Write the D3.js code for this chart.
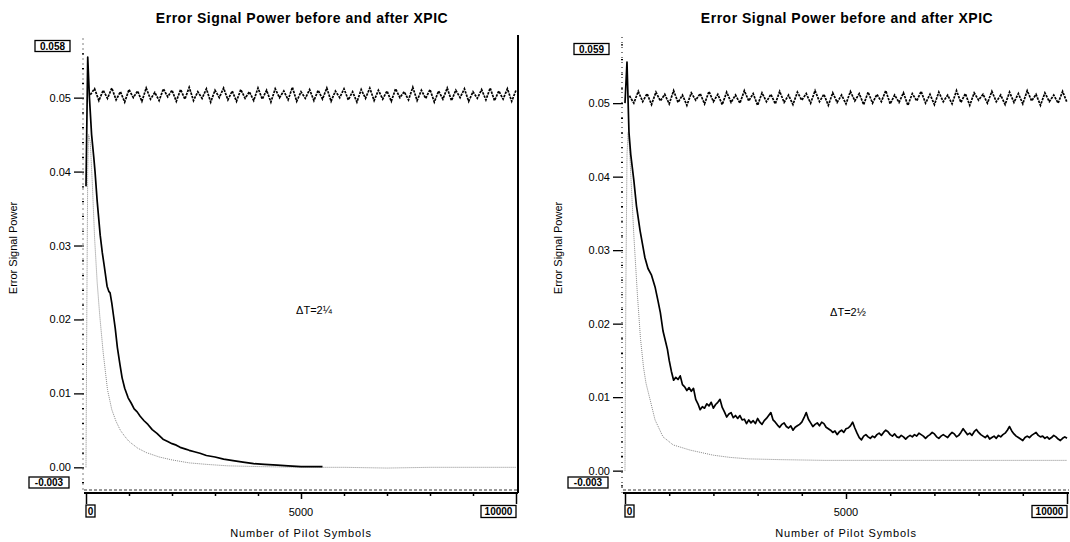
<!DOCTYPE html>
<html><head><meta charset="utf-8">
<script src="https://cdn.jsdelivr.net/npm/d3@7"></script>
<style>
html,body{margin:0;padding:0;background:#fff;}
svg{display:block;font-family:"Liberation Sans",Arial,Helvetica,sans-serif;}
</style></head>
<body><svg id="c" width="1070" height="542"></svg>
<script>
// ---------------- data ----------------
const titleText = "Error Signal Power before and after XPIC";
const yLabelText = "Error Signal Power";
const xLabelText = "Number of Pilot Symbols";
const yTickValues = [0, 0.01, 0.02, 0.03, 0.04, 0.05];
const xTickValues = [0,1000,2000,3000,4000,5000,6000,7000,8000,9000,10000];
const xTickLabelValues = [5000];
const leftYDomain = [-0.003, 0.058];
const rightYDomain = [-0.003, 0.059];
const xDomain = [0, 10000];
const leftNote = "ΔT=2¼";
const rightNote = "ΔT=2½";

// before XPIC (noisy, ~0.05), sampled every 100 symbols starting at 100
const beforeStart = 100, beforeStep = 100;
const leftBefore = [
0.0504,0.0512,0.0496,0.0510,0.0499,0.0513,0.0497,0.0508,0.0494,0.0511,
0.0500,0.0509,0.0495,0.0513,0.0498,0.0507,0.0496,0.0512,0.0501,0.0510,
0.0495,0.0511,0.0498,0.0514,0.0496,0.0508,0.0499,0.0512,0.0494,0.0510,
0.0500,0.0513,0.0497,0.0509,0.0495,0.0511,0.0499,0.0508,0.0496,0.0513,
0.0498,0.0510,0.0494,0.0512,0.0500,0.0509,0.0497,0.0514,0.0495,0.0508,
0.0499,0.0511,0.0496,0.0510,0.0498,0.0513,0.0495,0.0509,0.0500,0.0512,
0.0497,0.0508,0.0494,0.0511,0.0499,0.0513,0.0496,0.0510,0.0498,0.0509,
0.0495,0.0512,0.0500,0.0508,0.0497,0.0514,0.0496,0.0510,0.0499,0.0511,
0.0494,0.0509,0.0498,0.0513,0.0496,0.0510,0.0500,0.0512,0.0495,0.0508,
0.0499,0.0511,0.0497,0.0513,0.0496,0.0509,0.0498,0.0512,0.0495,0.0510];
const rightBefore = [
0.0510,0.0500,0.0516,0.0502,0.0513,0.0498,0.0515,0.0503,0.0512,0.0499,
0.0517,0.0501,0.0511,0.0497,0.0514,0.0504,0.0513,0.0499,0.0516,0.0502,
0.0512,0.0498,0.0515,0.0501,0.0511,0.0500,0.0517,0.0503,0.0513,0.0497,
0.0514,0.0502,0.0512,0.0499,0.0516,0.0501,0.0511,0.0498,0.0515,0.0504,
0.0513,0.0500,0.0517,0.0502,0.0512,0.0497,0.0514,0.0501,0.0511,0.0499,
0.0516,0.0503,0.0513,0.0498,0.0515,0.0500,0.0512,0.0502,0.0517,0.0499,
0.0511,0.0501,0.0514,0.0497,0.0513,0.0503,0.0516,0.0500,0.0512,0.0498,
0.0515,0.0502,0.0511,0.0499,0.0517,0.0501,0.0513,0.0497,0.0514,0.0504,
0.0512,0.0500,0.0516,0.0502,0.0511,0.0498,0.0515,0.0501,0.0513,0.0499,
0.0517,0.0503,0.0512,0.0497,0.0514,0.0502,0.0511,0.0500,0.0516,0.0501];

// after XPIC (black solid), left panel ΔT=2¼
const leftAfterX = [0,40,80,130,180,210,260,330,380,420,490,530,560,600,640,680,730,790,840,900,980,1050,1120,1190,1260,1350,1440,1540,1650,1790,1900,2000,2100,2190,2300,2400,2520,2650,2800,3000,3200,3420,3650,3900,4150,4450,4700,5000,5500];
const leftAfterY = [0.038,0.0555,0.050,0.045,0.042,0.040,0.036,0.0314,0.029,0.0274,0.0245,0.0238,0.0236,0.0222,0.0205,0.0188,0.0162,0.0139,0.0121,0.0107,0.0094,0.0087,0.0079,0.0075,0.0069,0.0063,0.0058,0.0051,0.0046,0.0038,0.0035,0.0032,0.0030,0.0027,0.0025,0.0023,0.0021,0.0019,0.0016,0.0014,0.0011,0.0009,0.0007,0.0005,0.0004,0.0003,0.0002,0.0001,0.0001];

// reference curve (grey dotted), left panel
const leftRefX = [0,20,40,60,100,150,200,260,320,400,500,600,700,800,900,1000,1200,1400,1700,2000,2400,2800,3300,4000,5000,6000,7000,8000,9000,10000];
const leftRefY = [0.000,0.022,0.040,0.045,0.044,0.038,0.031,0.025,0.0205,0.0155,0.0105,0.0078,0.0062,0.0050,0.0042,0.0035,0.0026,0.0020,0.0014,0.0010,0.0006,0.0004,0.0002,0.0001,0.0000,0.0000,-0.0001,0.0000,0.0000,0.0000];

// after XPIC (black solid), right panel ΔT=2½ : head + tail sampled every 50 symbols from 1100
const rightHeadX = [0,45,90,130,200,260,340,450,520,600,680,750,800,860,920,960,1000,1050];
const rightHeadY = [0.050,0.0556,0.046,0.043,0.0395,0.036,0.0327,0.029,0.0275,0.0266,0.025,0.023,0.0215,0.019,0.0175,0.0165,0.015,0.0135];
const rightTailStart = 1100, rightTailStep = 50;
const rightTailY = [
0.0123,0.0127,0.0124,0.0129,0.0117,0.0114,0.0109,0.0113,0.0108,0.0112,
0.0097,0.0091,0.0083,0.0087,0.0085,0.0091,0.0088,0.0093,0.0085,0.0090,
0.0093,0.0097,0.0086,0.0080,0.0073,0.0077,0.0079,0.0072,0.0075,0.0071,
0.0075,0.0069,0.0070,0.0064,0.0069,0.0065,0.0068,0.0064,0.0071,0.0066,
0.0063,0.0068,0.0071,0.0075,0.0079,0.0069,0.0066,0.0062,0.0059,0.0063,
0.0065,0.0060,0.0058,0.0061,0.0055,0.0059,0.0061,0.0063,0.0066,0.0072,
0.0079,0.0070,0.0065,0.0060,0.0063,0.0065,0.0061,0.0066,0.0064,0.0059,
0.0057,0.0055,0.0052,0.0054,0.0049,0.0053,0.0055,0.0052,0.0057,0.0058,
0.0061,0.0066,0.0058,0.0051,0.0045,0.0042,0.0047,0.0049,0.0046,0.0044,
0.0047,0.0045,0.0049,0.0051,0.0048,0.0052,0.0055,0.0053,0.0049,0.0047,
0.0050,0.0046,0.0045,0.0048,0.0046,0.0043,0.0046,0.0048,0.0046,0.0049,
0.0047,0.0051,0.0049,0.0047,0.0044,0.0047,0.0049,0.0052,0.0050,0.0046,
0.0044,0.0047,0.0049,0.0047,0.0045,0.0049,0.0052,0.0050,0.0046,0.0048,
0.0052,0.0057,0.0053,0.0049,0.0051,0.0048,0.0053,0.0056,0.0052,0.0049,
0.0047,0.0045,0.0048,0.0043,0.0045,0.0047,0.0044,0.0048,0.0046,0.0049,
0.0051,0.0055,0.0060,0.0054,0.0050,0.0047,0.0045,0.0043,0.0041,0.0045,
0.0047,0.0045,0.0048,0.0050,0.0052,0.0048,0.0046,0.0047,0.0044,0.0046,
0.0043,0.0045,0.0048,0.0046,0.0043,0.0041,0.0044,0.0046,0.0044];

// reference curve (grey dotted), right panel
const rightRefX = [0,20,45,70,100,150,200,280,350,420,475,570,680,860,1090,1470,2000,2380,2800,3500,4500,5500,7000,8500,10000];
const rightRefY = [0.000,0.025,0.043,0.046,0.044,0.038,0.032,0.024,0.018,0.014,0.0119,0.0096,0.0069,0.0046,0.0035,0.0028,0.0021,0.0018,0.0016,0.0015,0.0014,0.0014,0.0014,0.0014,0.0014];

// ---------------- drawing ----------------
const svg = d3.select("#c");
const zip = (xs, ys) => xs.map((x, i) => [x, ys[i]]);
const grid = (start, step, ys) => ys.map((y, i) => [start + i * step, y]);

const panels = [
  {
    xr: [86, 516], yr: [489.5, 38.5], yDomain: leftYDomain,
    axisX: 83, titleY: 23, yLabelX: 17, xAxisY: 493, border: 518,
    topBox: "0.058", topBoxY: 46, botBox: "-0.003", note: leftNote, noteX: 314, noteY: 314,
    before: grid(beforeStart, beforeStep, leftBefore),
    after: zip(leftAfterX, leftAfterY),
    ref: zip(leftRefX, leftRefY)
  },
  {
    xr: [625, 1067], yr: [492.7, 37], yDomain: rightYDomain,
    axisX: 622, titleY: 23, yLabelX: 562, xAxisY: 493, border: null,
    topBox: "0.059", topBoxY: 49, botBox: "-0.003", note: rightNote, noteX: 848, noteY: 316,
    before: grid(beforeStart, beforeStep, rightBefore),
    after: zip(rightHeadX, rightHeadY).concat(grid(rightTailStart, rightTailStep, rightTailY)),
    ref: zip(rightRefX, rightRefY)
  }
];

function boxLabel(g, text, x, y, anchor, w, h) {
  const bx = anchor === "end" ? x - w : (anchor === "start" ? x : x - w / 2);
  g.append("rect").attr("x", bx).attr("y", y - h / 2).attr("width", w).attr("height", h)
    .attr("fill", "#fff").attr("stroke", "#000").attr("stroke-width", 1.3);
  g.append("text").attr("x", bx + w / 2).attr("y", y + 3.5).attr("text-anchor", "middle")
    .attr("font-size", 10).attr("font-weight", "bold").text(text);
}

panels.forEach(p => {
  const x = d3.scaleLinear().domain(xDomain).range(p.xr);
  const y = d3.scaleLinear().domain(p.yDomain).range(p.yr);
  const g = svg.append("g");
  const cx = (p.xr[0] + p.xr[1]) / 2;

  // title
  g.append("text").attr("x", cx + 1).attr("y", p.titleY).attr("text-anchor", "middle")
    .attr("font-size", 14).attr("font-weight", "bold").attr("letter-spacing", 0.5).text(titleText);

  // y axis (dotted spine + minor dots)
  g.append("line").attr("x1", p.axisX).attr("x2", p.axisX).attr("y1", y(p.yDomain[1])).attr("y2", y(p.yDomain[0]))
    .attr("stroke", "#000").attr("stroke-width", 1).attr("stroke-dasharray", "1,4");
  const minor = d3.axisLeft(y).tickValues(d3.range(-0.002, p.yDomain[1], 0.002)).tickSize(2).tickFormat("");
  const gm = g.append("g").attr("transform", `translate(${p.axisX + 1},0)`).call(minor);
  gm.select(".domain").remove();
  gm.selectAll("line").attr("stroke", "#000").attr("stroke-width", 1.2);

  const yAxis = d3.axisLeft(y).tickValues(yTickValues).tickSize(8).tickPadding(3).tickFormat(d3.format(".2f"));
  const gy = g.append("g").attr("transform", `translate(${p.axisX - 1},0)`).call(yAxis);
  gy.select(".domain").remove();
  gy.selectAll("line").attr("stroke", "#000").attr("stroke-width", 1.3);
  gy.selectAll("text").attr("font-size", 11).attr("font-family", "Liberation Sans, Arial, sans-serif").attr("fill", "#000");

  // y label
  g.append("text").attr("transform", `translate(${p.yLabelX},${248}) rotate(-90)`).attr("text-anchor", "middle")
    .attr("font-size", 11).text(yLabelText);

  // x axis
  g.append("line").attr("x1", p.xr[0] - 2).attr("x2", p.xr[1] + 2).attr("y1", p.xAxisY - 3).attr("y2", p.xAxisY - 3)
    .attr("stroke", "#000").attr("stroke-width", 0.8).attr("stroke-dasharray", "3,2");
  const xAxis = d3.axisBottom(x).tickValues(xTickValues).tickSize(3).tickFormat("");
  const gx = g.append("g").attr("transform", `translate(0,${p.xAxisY})`).call(xAxis);
  gx.select(".domain").attr("stroke", "#000").attr("stroke-width", 2).attr("d", `M${p.xr[0] - 2},0H${p.xr[1] + 2}`);
  gx.selectAll(".tick line").attr("stroke", "#000").attr("stroke-width", 1.5)
    .attr("y2", d => (d === 0 || d === 10000) ? 11 : (d === 5000 ? 6 : 3));
  xTickLabelValues.forEach(v => {
    g.append("text").attr("x", x(v)).attr("y", 516).attr("text-anchor", "middle").attr("font-size", 11).text(String(v));
  });
  g.append("text").attr("x", cx).attr("y", 537).attr("text-anchor", "middle").attr("font-size", 11)
    .attr("letter-spacing", 0.9).text(xLabelText);

  // right border
  if (p.border) {
    g.append("line").attr("x1", p.border).attr("x2", p.border).attr("y1", 35).attr("y2", p.xAxisY)
      .attr("stroke", "#000").attr("stroke-width", 2);
  }

  // curves
  const line = d3.line().x(d => x(d[0])).y(d => y(d[1]));
  g.append("path").datum(p.ref).attr("d", line).attr("fill", "none")
    .attr("stroke", "#888").attr("stroke-width", 1).attr("stroke-dasharray", "1,1");
  g.append("path").datum(p.after).attr("d", line).attr("fill", "none")
    .attr("stroke", "#000").attr("stroke-width", 1.7).attr("stroke-linejoin", "round");
  g.append("path").datum(p.before).attr("d", line).attr("fill", "none")
    .attr("stroke", "#000").attr("stroke-width", 1.7).attr("stroke-dasharray", "2.5,1");

  // annotation
  g.append("text").attr("x", p.noteX).attr("y", p.noteY).attr("text-anchor", "middle").attr("font-size", 11).text(p.note);

  // boxed extreme labels
  boxLabel(g, p.topBox, p.axisX - 13, p.topBoxY, "end", 35, 11);
  boxLabel(g, p.botBox, p.axisX - 14, 482.5, "end", 40, 11);
  boxLabel(g, "0", x(0), 511, "start", 9, 12);
  boxLabel(g, "10000", x(10000), 511.5, "end", 35, 12);
});
</script>
</body></html>
